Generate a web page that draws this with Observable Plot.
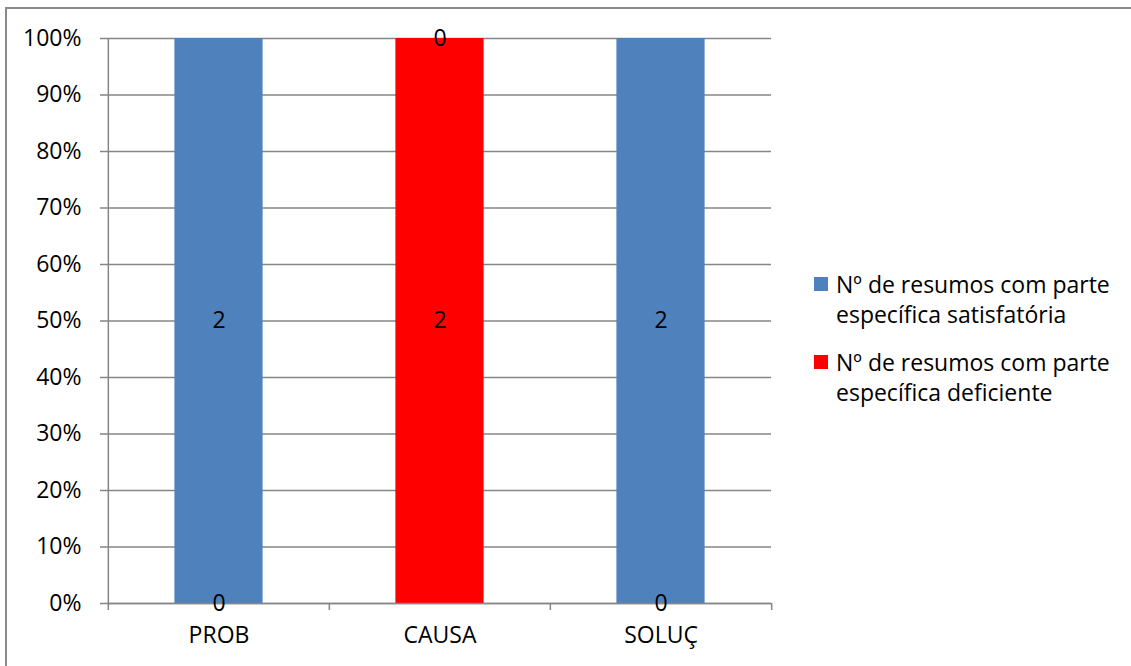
<!DOCTYPE html>
<html>
<head>
<meta charset="utf-8">
<script src="https://cdn.jsdelivr.net/npm/d3@7"></script>
<script src="https://cdn.jsdelivr.net/npm/@observablehq/plot@0.6"></script>
<style>
  html, body { margin: 0; padding: 0; background: #fff; }
  #chart { position: relative; width: 1131px; height: 666px; overflow: hidden; font-family: "Open Sans", Lato, sans-serif; }
  #frame { position: absolute; left: 5px; top: 7px; width: 1200px; height: 700px;
           border-left: 2px solid #8a8a8a; border-top: 2px solid #8a8a8a; box-sizing: border-box; }
  #legend { position: absolute; left: 814px; top: 269px; font-size: 23px; color: #000; }
  .item { display: flex; align-items: flex-start; margin-bottom: 18px; }
  .swatch { width: 14px; height: 14px; margin-top: 8px; margin-right: 8px; flex: none; }
  .label { line-height: 30px; white-space: nowrap; }
</style>
</head>
<body>
<div id="chart">
  <div id="frame"></div>
  <div id="legend"></div>
</div>
<script>
// Categories and the two stacked series (counts of abstracts)
const categories = ["PROB", "CAUSA", "SOLUÇ"];
const seriesNames = [
  "Nº de resumos com parte específica satisfatória",
  "Nº de resumos com parte específica deficiente"
];
const legendLines = [
  ["Nº de resumos com parte", "específica satisfatória"],
  ["Nº de resumos com parte", "específica deficiente"]
];
const seriesColors = ["#4F81BD", "#FF0000"];
const satisfatoria = [2, 0, 2];
const deficiente = [0, 2, 0];
const yTicks = [0, 0.1, 0.2, 0.3, 0.4, 0.5, 0.6, 0.7, 0.8, 0.9, 1];

// Long table: "deficiente" is stacked first (bottom), "satisfatória" on top
const rows = [];
categories.forEach((c, i) => {
  rows.push({cat: c, series: seriesNames[1], value: deficiente[i]});
  rows.push({cat: c, series: seriesNames[0], value: satisfatoria[i]});
});

const W = 1131, H = 666;
const mL = 107, mR = 360, mT = 38, mB = 63;
const step = (W - mL - mR) / categories.length;
const gray = "#868686";

const stackOpts = {offset: "normalize", x: "cat", y: "value"};

const plot = Plot.plot({
  width: W,
  height: H,
  marginLeft: mL,
  marginRight: mR,
  marginTop: mT,
  marginBottom: mB,
  style: {fontFamily: "'Open Sans', Lato, sans-serif", fontSize: "23px", color: "#000", background: "transparent", overflow: "visible"},
  x: {type: "band", domain: categories, padding: 0, axis: null},
  y: {domain: [0, 1], axis: null},
  color: {domain: seriesNames, range: seriesColors},
  marks: [
    Plot.gridY(yTicks, {stroke: gray, strokeOpacity: 1, strokeWidth: 1.5}),
    Plot.barY(rows, Plot.stackY({...stackOpts, fill: "series", insetLeft: step * 0.3, insetRight: step * 0.3})),
    Plot.ruleY([0], {stroke: gray, strokeWidth: 1.5}),
    Plot.ruleX([categories[0]], {y1: 0, y2: 1, dx: -step / 2, stroke: gray, strokeWidth: 1.5}),
    Plot.axisY(yTicks, {tickSize: 7, tickPadding: 19, stroke: gray, strokeWidth: 1.5, fill: "#000",
      tickFormat: d3.format(".0%"), label: null}),
    Plot.axisX(categories, {tickSize: 0, tickPadding: 23, fill: "#000", label: null}),
    Plot.axisX(categories, {tickSize: 7, dx: -step / 2, stroke: gray, strokeWidth: 1.5, tickFormat: () => "", label: null}),
    Plot.axisX([categories[categories.length - 1]], {tickSize: 7, dx: step / 2, stroke: gray, strokeWidth: 1.5, tickFormat: () => "", label: null}),
    Plot.text(rows, Plot.stackY({...stackOpts, text: "value", fill: "#000", lineAnchor: "middle"}))
  ]
});

const chart = document.getElementById("chart");
plot.style.position = "absolute";
plot.style.left = "0px";
plot.style.top = "0px";
chart.insertBefore(plot, document.getElementById("legend"));

const legend = document.getElementById("legend");
seriesNames.forEach((name, i) => {
  const item = document.createElement("div");
  item.className = "item";
  const sw = document.createElement("div");
  sw.className = "swatch";
  sw.style.background = seriesColors[i];
  const lab = document.createElement("div");
  lab.className = "label";
  lab.innerHTML = legendLines[i].join("<br>");
  item.appendChild(sw);
  item.appendChild(lab);
  legend.appendChild(item);
});
</script>
</body>
</html>
